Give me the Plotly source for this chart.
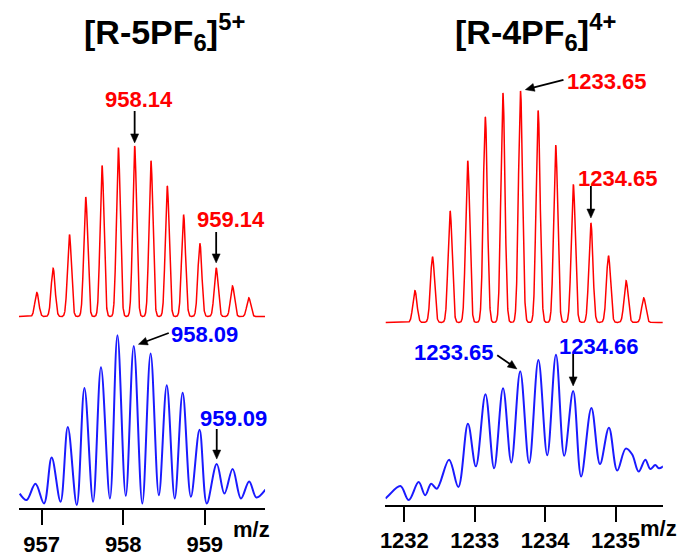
import math
import numpy as np
import plotly.graph_objects as go

W, H = 681, 557
FONT = "Liberation Sans, Arial, sans-serif"
RED = "#ff0000"
BLUE = "#1a1aff"
BLUE_TXT = "#0000ff"

# ---------------- data ----------------
# Left panel: [R-5PF6]5+ ; simulated (red) isotope peaks
left_red_mz = [956.94, 957.14, 957.34, 957.54, 957.74, 957.94, 958.14,
               958.34, 958.54, 958.74, 958.94, 959.14, 959.34, 959.54]
left_red_int = [24.4, 49, 83.4, 121.4, 153.4, 171.7, 173.4,
                158.4, 132.7, 103.4, 74.4, 49.4, 31, 19]
# experimental (blue) profile: alternating valley/peak points
left_blue_mz = [956.73, 956.814, 956.923, 957.028, 957.122, 957.231, 957.320,
                957.430, 957.524, 957.630, 957.727, 957.837, 957.929, 958.031,
                958.129, 958.234, 958.336, 958.437, 958.534, 958.632, 958.729,
                958.830, 958.936, 959.025, 959.147, 959.241, 959.342, 959.444,
                959.545, 959.634, 959.744]
left_blue_int = [15, 8.4, 25, 5, 51.7, 6.7, 82.7,
                 3.4, 122.4, 6.7, 143.4, 10, 176, 12.7,
                 165, 5, 157.4, 13.4, 125, 10, 117.4,
                 11.7, 80, 5, 45, 15, 40, 10,
                 27.4, 11, 19]

# Right panel: [R-4PF6]4+
right_red_mz = [1232.15, 1232.40, 1232.65, 1232.90, 1233.15, 1233.40, 1233.65,
                1233.90, 1234.15, 1234.40, 1234.65, 1234.90, 1235.15, 1235.40]
right_red_int = [32.3, 66.7, 113.3, 164.3, 208.7, 233.3, 235.3,
                 215.3, 180.3, 140.3, 101, 67.7, 42.3, 25]
right_blue_mz = [1231.732, 1231.78, 1231.944, 1232.062, 1232.203, 1232.296,
                 1232.381, 1232.461, 1232.635, 1232.767, 1232.903, 1233.016,
                 1233.152, 1233.275, 1233.402, 1233.519, 1233.646, 1233.773,
                 1233.904, 1234.03, 1234.154, 1234.271, 1234.398, 1234.511,
                 1234.657, 1234.779, 1234.906, 1235.024, 1235.145, 1235.235,
                 1235.329, 1235.423, 1235.494, 1235.564, 1235.616, 1235.68]
right_blue_int = [6.6, 10, 19.3, 5, 23.3, 10,
                  21.6, 16.6, 46, 18.3, 82.6, 39.3,
                  112.6, 37.3, 118.6, 43.3, 136, 42.6,
                  147.3, 50.6, 152.6, 50, 116, 29,
                  98.6, 41.6, 78.6, 35, 57.3, 51.6,
                  34, 46, 36.6, 40.6, 37.3, 39.3]

left_ticks = [957, 958, 959]
right_ticks = [1232, 1233, 1234, 1235]
left_title = "[R-5PF<sub>6</sub>]<sup>5+</sup>"
right_title = "[R-4PF<sub>6</sub>]<sup>4+</sup>"

LEFT_RANGE = [956.72, 959.74]
RIGHT_RANGE = [1231.732, 1235.672]


def profile(centers, heights, sigma, xr, n=3000):
    x = np.linspace(xr[0], xr[1], n)
    y = np.zeros_like(x)
    for c, h in zip(centers, heights):
        y += h * np.exp(-((x - c) ** 2) / (2 * sigma ** 2))
    return x, y


def fy(px):
    return 1 - px / H


fig = go.Figure()

lx, ly = profile(left_red_mz, left_red_int, 0.024, LEFT_RANGE)
fig.add_trace(go.Scatter(x=lx, y=ly, mode="lines", xaxis="x", yaxis="y2",
                         line=dict(color=RED, width=1.5), hoverinfo="skip"))
fig.add_trace(go.Scatter(x=left_blue_mz, y=left_blue_int, mode="lines",
                         xaxis="x", yaxis="y",
                         line=dict(color=BLUE, width=2, shape="spline", smoothing=1.0),
                         hoverinfo="skip"))

rx, ry = profile(right_red_mz, right_red_int, 0.029, RIGHT_RANGE)
fig.add_trace(go.Scatter(x=rx, y=ry, mode="lines", xaxis="x2", yaxis="y4",
                         line=dict(color=RED, width=1.5), hoverinfo="skip"))
fig.add_trace(go.Scatter(x=right_blue_mz, y=right_blue_int, mode="lines",
                         xaxis="x2", yaxis="y3",
                         line=dict(color=BLUE, width=2, shape="spline", smoothing=1.0),
                         hoverinfo="skip"))

xcommon = dict(showline=True, linecolor="black", linewidth=2, ticks="outside",
               ticklen=15, tickwidth=2, tickcolor="black", showgrid=False,
               zeroline=False, fixedrange=True,
               tickfont=dict(family=FONT, size=22, color="black", weight="bold"))
ycommon = dict(visible=False, showgrid=False, zeroline=False, fixedrange=True)

# each y axis: 1 data unit = 1 pixel; domains extended upward so arrows are not clipped
fig.update_layout(
    width=W, height=H, margin=dict(l=0, r=0, t=0, b=0),
    paper_bgcolor="white", plot_bgcolor="white", showlegend=False,
    xaxis=dict(domain=[14 / W, 262 / W], range=LEFT_RANGE, anchor="y",
               tickvals=left_ticks, ticktext=[str(t) for t in left_ticks], **xcommon),
    yaxis=dict(domain=[fy(516.7), fy(300)], range=[0, 216.7], anchor="x", **ycommon),
    yaxis2=dict(domain=[fy(325.7), fy(60)], range=[-4, 261.7], anchor="x", **ycommon),
    xaxis2=dict(domain=[383.3 / W, 662.7 / W], range=RIGHT_RANGE, anchor="y3",
                tickvals=right_ticks, ticktext=[str(t) for t in right_ticks], **xcommon),
    yaxis3=dict(domain=[fy(513.3), fy(320)], range=[0, 193.3], anchor="x2", **ycommon),
    yaxis4=dict(domain=[fy(331.7), fy(50)], range=[-4, 277.7], anchor="x2", **ycommon),
)

ann = []
shapes = []


def label(text, color, xref, yref, x, y, xs, ys):
    ann.append(dict(text=text, xref=xref, yref=yref, x=x, y=y, xshift=xs, yshift=ys - 3,
                    showarrow=False, xanchor="center", yanchor="middle",
                    font=dict(family=FONT, size=22, color=color, weight="bold")))


def arrow(xref, yref, x, y, tdx, tdy, standoff, hl=9, hw=8):
    # pixel offsets relative to the data point (y up)
    L = math.hypot(tdx, tdy)
    ux, uy = -tdx / L, -tdy / L
    tipx, tipy = -ux * standoff, -uy * standoff
    bx, by = tipx - ux * hl, tipy - uy * hl
    nx, ny = -uy, ux
    common = dict(xref=xref, yref=yref, xsizemode="pixel", ysizemode="pixel",
                  xanchor=x, yanchor=y)
    shapes.append(dict(type="line", x0=tdx, y0=tdy, x1=bx + ux * 1.0, y1=by + uy * 1.0,
                       line=dict(color="black", width=1.8), **common))
    path = (f"M{tipx:.2f},{tipy:.2f} L{bx + nx * hw / 2:.2f},{by + ny * hw / 2:.2f} "
            f"L{bx - nx * hw / 2:.2f},{by - ny * hw / 2:.2f} Z")
    shapes.append(dict(type="path", path=path, fillcolor="black",
                       line=dict(color="black", width=0.5), **common))


# left red
label("958.14", RED, "x", "y2", 958.14, 173.4, 4, 49)
arrow("x", "y2", 958.14, 173.4, 0, 35, 3)
label("959.14", RED, "x", "y2", 959.14, 49.4, 15, 51)
arrow("x", "y2", 959.14, 49.4, 0, 36, 5)
# left blue
label("958.09", BLUE_TXT, "x", "y", 958.129, 165, 71, 15)
arrow("x", "y", 958.129, 165, 35, 13, 5)
label("959.09", BLUE_TXT, "x", "y", 959.147, 45, 17, 49)
arrow("x", "y", 959.147, 45, 0, 35, 5)
# right red
label("1233.65", RED, "x2", "y4", 1233.65, 235.3, 87, 12)
arrow("x2", "y4", 1233.65, 235.3, 43, 11, 5)
label("1234.65", RED, "x2", "y4", 1234.65, 101, 27, 48)
arrow("x2", "y4", 1234.65, 101, 0, 37, 5)
# right blue
label("1233.65", BLUE_TXT, "x2", "y3", 1233.646, 136, -66, 22)
arrow("x2", "y3", 1233.646, 136, -23, 16, 4)
label("1234.66", BLUE_TXT, "x2", "y3", 1234.398, 116, 26, 47)
arrow("x2", "y3", 1234.398, 116, 0, 37, 5)

# titles
for t, cx in [(left_title, 161), (right_title, 534)]:
    ann.append(dict(text=t, xref="paper", yref="paper", x=cx / W, y=fy(33),
                    showarrow=False, xanchor="center", yanchor="middle",
                    font=dict(family=FONT, size=34, color="black", weight="bold")))
# m/z labels
for cx, cy in [(248.5, 538), (658, 537)]:
    ann.append(dict(text="m/z", xref="paper", yref="paper", x=cx / W, y=fy(cy),
                    showarrow=False, xanchor="center", yanchor="middle",
                    font=dict(family=FONT, size=22, color="black", weight="bold")))

fig.update_layout(annotations=ann, shapes=shapes)
fig.write_html("out.html")
